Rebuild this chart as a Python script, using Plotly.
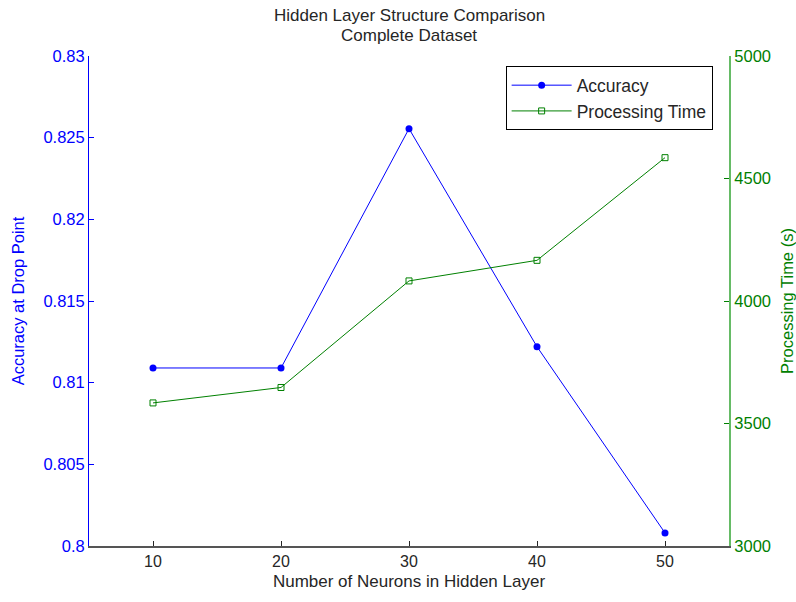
import plotly.graph_objects as go

neurons = [10, 20, 30, 40, 50]
accuracy = [0.8109, 0.8109, 0.82555, 0.8122, 0.8008]
proc_time = [3584, 3647, 4082, 4166, 4585]

FONT = "Liberation Sans, Arial, sans-serif"

fig = go.Figure()
fig.add_trace(go.Scatter(
    x=neurons, y=accuracy, name="Accuracy", mode="lines+markers",
    line=dict(color="#0000FF", width=1),
    marker=dict(symbol="circle", size=7, color="#0000FF"),
    yaxis="y"))
fig.add_trace(go.Scatter(
    x=neurons, y=proc_time, name="Processing Time", mode="lines+markers",
    line=dict(color="#008000", width=1),
    marker=dict(symbol="square-open", size=6, color="#008000", line=dict(width=1)),
    yaxis="y2"))

fig.update_layout(
    width=796, height=602,
    margin=dict(l=89, r=67, t=56, b=56),
    paper_bgcolor="white", plot_bgcolor="white",
    font=dict(family=FONT, size=16, color="#262626"),
    showlegend=True,
    annotations=[
        dict(text="Hidden Layer Structure Comparison", xref="paper", yref="paper",
             x=0.5, y=1.0 + (56 - 16) / 490, xanchor="center", yanchor="middle",
             showarrow=False, font=dict(family=FONT, size=17, color="#262626")),
        dict(text="Complete Dataset", xref="paper", yref="paper",
             x=0.5, y=1.0 + (56 - 36) / 490, xanchor="center", yanchor="middle",
             showarrow=False, font=dict(family=FONT, size=17, color="#262626")),
    ],
    xaxis=dict(range=[5, 55], tickvals=neurons, ticks="inside", ticklen=5,
               tickcolor="#262626", showgrid=False, zeroline=False,
               showline=True, linecolor="#555555", linewidth=2, automargin=False,
               tickfont=dict(size=16, color="#262626"),
               title=dict(text="Number of Neurons in Hidden Layer",
                          font=dict(size=17, color="#262626"), standoff=6)),
    yaxis=dict(range=[0.8, 0.83], tickvals=[0.8, 0.805, 0.81, 0.815, 0.82, 0.825, 0.83],
               ticktext=["0.8", "0.805", "0.81", "0.815", "0.82", "0.825", "0.83"],
               ticks="inside", ticklen=5, tickcolor="#0000FF",
               showgrid=False, zeroline=False, showline=True, automargin=False,
               linecolor="#0000FF", linewidth=1,
               tickfont=dict(size=16.5, color="#0000FF"),
               title=dict(text="Accuracy at Drop Point",
                          font=dict(size=16.5, color="#0000FF"), standoff=14)),
    yaxis2=dict(range=[3000, 5000], tickvals=[3000, 3500, 4000, 4500, 5000],
                overlaying="y", side="right", anchor="x",
                ticks="inside", ticklen=5, tickcolor="#008000",
                showgrid=False, zeroline=False, showline=True, automargin=False,
                linecolor="#66BB66", linewidth=2,
                tickfont=dict(size=16.5, color="#008000"),
                title=dict(text="Processing Time (s)",
                           font=dict(size=16.5, color="#008000"), standoff=16)),
    legend=dict(x=0.651, y=0.979, xanchor="left", yanchor="top",
                bgcolor="white", bordercolor="black", borderwidth=1,
                font=dict(size=17.5, color="#262626"),
                tracegroupgap=0, itemwidth=60),
)

fig.write_html("out.html")
